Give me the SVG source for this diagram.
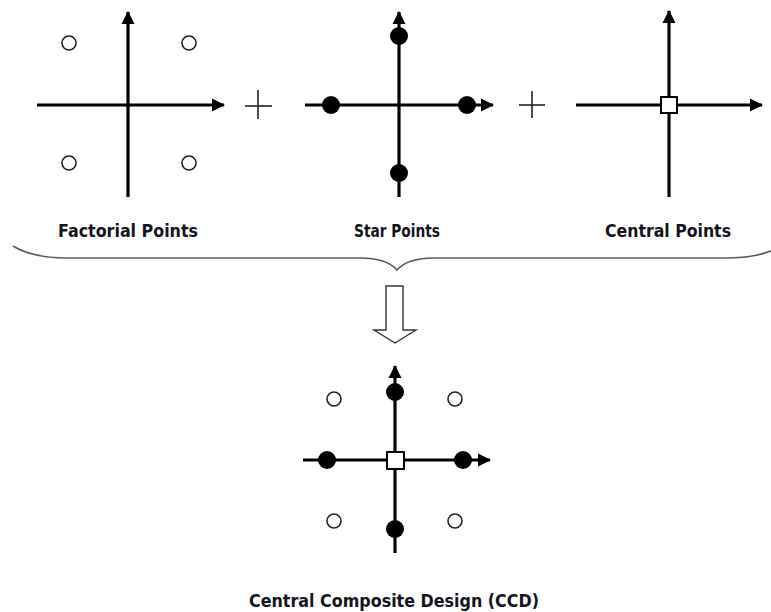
<svg xmlns="http://www.w3.org/2000/svg" width="771" height="612" viewBox="0 0 771 612">
  <defs>
    <marker id="arrow" markerUnits="userSpaceOnUse" markerWidth="14" markerHeight="14" viewBox="0 0 14 14" refX="12" refY="7" orient="auto">
      <path d="M0,0.5 L13,7 L0,13.5 Z" fill="#000"/>
    </marker>
  </defs>
  <style>
    .axis { stroke: #000; stroke-width: 3.2; fill: none; }
    .ax-arrow { marker-end: url(#arrow); }
    .open { fill: #fff; stroke: #222; stroke-width: 1.6; }
    .dot { fill: #000; }
    .centre { fill: #fff; stroke: #000; stroke-width: 2; }
    .plus { stroke: #222; stroke-width: 1.6; }
    .label { font-family: "DejaVu Sans", "Liberation Sans", sans-serif; font-weight: bold; font-size: 17px; fill: #141420; text-anchor: middle; }
    .brace { fill: none; stroke: #5a5a5a; stroke-width: 1.6; }
    .hollow { fill: #fff; stroke: #333; stroke-width: 1.4; stroke-linejoin: miter; }
  </style>

  <!-- Factorial points: 2^k corners -->
  <g id="factorial">
    <line class="axis ax-arrow" x1="37" y1="105" x2="224" y2="105"/>
    <line class="axis ax-arrow" x1="128" y1="197" x2="128" y2="12"/>
    <circle class="open" cx="69" cy="43" r="7"/>
    <circle class="open" cx="189" cy="43" r="7"/>
    <circle class="open" cx="69" cy="163" r="7"/>
    <circle class="open" cx="189" cy="163" r="7"/>
    <text class="label" x="128" y="237" textLength="140" lengthAdjust="spacingAndGlyphs">Factorial Points</text>
  </g>

  <g id="plus1">
    <line class="plus" x1="245" y1="106" x2="272" y2="106"/>
    <line class="plus" x1="258" y1="90" x2="258" y2="119"/>
  </g>

  <!-- Star (axial) points -->
  <g id="star">
    <line class="axis ax-arrow" x1="305" y1="105" x2="493" y2="105"/>
    <line class="axis ax-arrow" x1="399" y1="197" x2="399" y2="12"/>
    <circle class="dot" cx="331" cy="105" r="9"/>
    <circle class="dot" cx="467" cy="105" r="9"/>
    <circle class="dot" cx="399" cy="36" r="9"/>
    <circle class="dot" cx="399" cy="173" r="9"/>
    <text class="label" x="397" y="237" textLength="86" lengthAdjust="spacingAndGlyphs">Star Points</text>
  </g>

  <g id="plus2">
    <line class="plus" x1="519" y1="105" x2="545" y2="105"/>
    <line class="plus" x1="532" y1="91" x2="532" y2="118"/>
  </g>

  <!-- Centre point -->
  <g id="central">
    <line class="axis ax-arrow" x1="576" y1="105" x2="762" y2="105"/>
    <line class="axis ax-arrow" x1="669" y1="197" x2="669" y2="11"/>
    <rect class="centre" x="661" y="97" width="16" height="16"/>
    <text class="label" x="668" y="237" textLength="126" lengthAdjust="spacingAndGlyphs">Central Points</text>
  </g>

  <!-- Brace grouping the three parts, and the hollow arrow -->
  <g id="connectors">
    <path class="brace" d="M13,246 C26,254 45,258 67,258 L360,258 C378,258 390,262 397,270 C404,262 416,258 434,258 L725,258 C748,258 768,254 781,246"/>
    <path class="hollow" d="M386,286 L403,286 L403,330 L416,330 L395,343 L374,330 L386,330 Z"/>
  </g>

  <!-- Combined central composite design -->
  <g id="ccd">
    <line class="axis ax-arrow" x1="303" y1="460" x2="490" y2="460"/>
    <line class="axis ax-arrow" x1="395" y1="553" x2="395" y2="366"/>
    <circle class="open" cx="334" cy="399" r="7"/>
    <circle class="open" cx="455" cy="399" r="7"/>
    <circle class="open" cx="334" cy="521" r="7"/>
    <circle class="open" cx="455" cy="521" r="7"/>
    <circle class="dot" cx="395" cy="392" r="9"/>
    <circle class="dot" cx="395" cy="529" r="9"/>
    <circle class="dot" cx="327" cy="460" r="9"/>
    <circle class="dot" cx="463" cy="460" r="9"/>
    <rect class="centre" x="387" y="452" width="17" height="17"/>
    <text class="label" x="394" y="607" textLength="290" lengthAdjust="spacingAndGlyphs">Central Composite Design (CCD)</text>
  </g>
</svg>
